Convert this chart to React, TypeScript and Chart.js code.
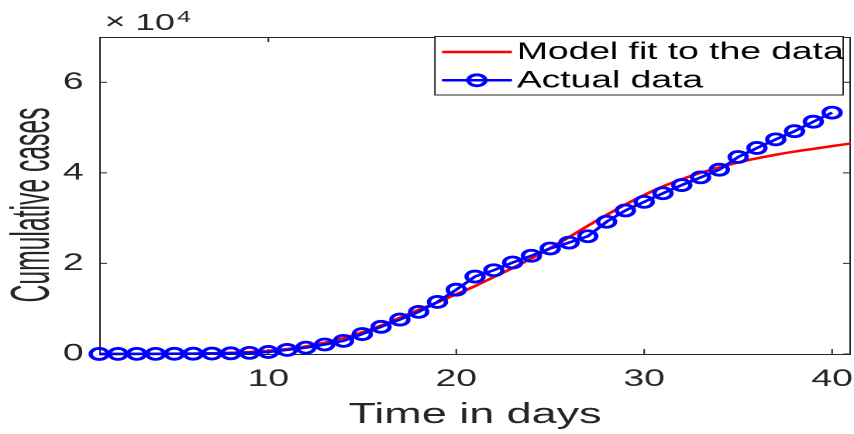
import React, { useEffect, useRef } from "react";
import { Chart, registerables } from "chart.js";

Chart.register(...registerables);

// ---------- data ----------
const days = [
  1, 2, 3, 4, 5, 6, 7, 8, 9, 10, 11, 12, 13, 14, 15, 16, 17, 18, 19, 20,
  21, 22, 23, 24, 25, 26, 27, 28, 29, 30, 31, 32, 33, 34, 35, 36, 37, 38, 39, 40,
];
const actualCases = [
  10, 15, 20, 30, 45, 65, 100, 150, 250, 450, 900, 1400, 2100, 2900, 4400, 6000,
  7600, 9300, 11500, 14200, 17100, 18500, 20200, 21700, 23300, 24600, 26000,
  29200, 31700, 33600, 35500, 37300, 39000, 40700, 43500, 45500, 47400, 49200,
  51300, 53300,
];
const modelDays = [
  1, 2, 3, 4, 5, 6, 7, 8, 9, 10, 11, 12, 13, 14, 15, 16, 17, 18, 19, 20, 21,
  22, 23, 24, 25, 26, 27, 28, 29, 30, 31, 32, 33, 34, 35, 36, 37, 38, 39, 40, 41,
];
const modelCases = [
  0, 10, 20, 40, 70, 110, 170, 270, 450, 700, 1100, 1700, 2500, 3500, 4800,
  6300, 8000, 9800, 11400, 13200, 15000, 17000, 19000, 21100, 23400, 25800,
  28300, 30700, 33000, 35100, 37000, 38600, 40000, 41200, 42300, 43200, 44000,
  44700, 45300, 45900, 46500,
];
const xTicks = [10, 20, 30, 40];
const yTicks = [0, 20000, 40000, 60000];
const xRange = [1, 41];
const yRange = [0, 70000];
const seriesNames = ["Model fit to the data", "Actual data"];
const xTitle = "Time in days";
const yTitle = "Cumulative cases";
const exponentBase = "10";
const exponentPower = "4";

// ---------- layout ----------
const W = 854;
const H = 434;
const FW = 551; // visible drawing-frame width, stretched horizontally to W
const CW = 558; // canvas width (extra room absorbs Chart.js point overflow padding)
const S = W / FW;
const FONT = "'Liberation Sans', Arial, Helvetica, sans-serif";
const INK = "#262626";

const decorPlugin = {
  id: "matlabDecor",
  beforeDatasetsDraw(chart: any) {
    const { ctx, chartArea, scales } = chart;
    const { left, right, top, bottom } = chartArea;
    const xs = scales.x;
    const ys = scales.y;
    ctx.save();
    ctx.strokeStyle = INK;
    ctx.lineWidth = 1;
    ctx.beginPath();
    ctx.rect(left + 0.5, top + 0.5, right - left - 1, bottom - top);
    const tl = 5;
    for (const v of xTicks) {
      const px = xs.getPixelForValue(v);
      ctx.moveTo(px, bottom);
      ctx.lineTo(px, bottom - tl);
      ctx.moveTo(px, top);
      ctx.lineTo(px, top + tl);
    }
    for (const v of yTicks) {
      const py = ys.getPixelForValue(v);
      ctx.moveTo(left, py);
      ctx.lineTo(left + tl, py);
      ctx.moveTo(right, py);
      ctx.lineTo(right - tl, py);
    }
    ctx.stroke();
    ctx.restore();
  },
  afterDraw(chart: any) {
    const { ctx, chartArea } = chart;
    const { left, right } = chartArea;
    ctx.save();
    ctx.fillStyle = INK;

    // x title
    ctx.font = `29px ${FONT}`;
    ctx.textAlign = "center";
    ctx.textBaseline = "alphabetic";
    ctx.fillText(xTitle, (left + right) / 2, 423);

    // y title (rotated, condensed)
    ctx.save();
    ctx.font = `35px ${FONT}`;
    const w = ctx.measureText(yTitle).width;
    const k = 195 / w;
    ctx.translate(31.5, 205);
    ctx.rotate(-Math.PI / 2);
    ctx.scale(k, 1);
    ctx.textAlign = "center";
    ctx.textBaseline = "alphabetic";
    ctx.fillText(yTitle, 0, 0);
    ctx.restore();

    // exponent
    ctx.textAlign = "left";
    ctx.textBaseline = "alphabetic";
    ctx.font = `23px ${FONT}`;
    ctx.fillText("\u00d7", left + 3.5, 29);
    ctx.fillText(exponentBase, left + 23.2, 30);
    ctx.font = `16px ${FONT}`;
    ctx.fillText(exponentPower, left + 50.3, 22);

    // legend
    const lx0 = 280.6;
    const lx1 = 544.0;
    const ly0 = 36.5;
    const ly1 = 95;
    ctx.fillStyle = "#ffffff";
    ctx.fillRect(lx0, ly0, lx1 - lx0, ly1 - ly0);
    ctx.strokeStyle = INK;
    ctx.lineWidth = 1;
    ctx.strokeRect(lx0, ly0, lx1 - lx0, ly1 - ly0);
    chart.data.datasets.forEach((ds: any, i: number) => {
      const cy = 52 + i * 28.3;
      ctx.strokeStyle = ds.borderColor;
      ctx.lineWidth = ds.borderWidth;
      ctx.beginPath();
      ctx.moveTo(285.2, cy);
      ctx.lineTo(330.3, cy);
      ctx.stroke();
      if (ds.pointRadius > 0) {
        ctx.lineWidth = ds.pointBorderWidth;
        ctx.strokeStyle = ds.pointBorderColor;
        ctx.beginPath();
        ctx.arc(307.7, cy, ds.pointRadius, 0, Math.PI * 2);
        ctx.stroke();
      }
      ctx.fillStyle = "#000000";
      ctx.font = `24px ${FONT}`;
      ctx.textAlign = "left";
      ctx.textBaseline = "middle";
      ctx.fillText(ds.label, 333.5, cy + 0.5);
    });
    ctx.restore();
  },
};

export default function App() {
  const ref = useRef<HTMLCanvasElement>(null);

  useEffect(() => {
    document.body.style.margin = "0";
    const canvas = ref.current;
    if (!canvas) return;
    const chart = new Chart(canvas, {
      type: "line",
      data: {
        datasets: [
          {
            label: seriesNames[0],
            data: modelDays.map((d, i) => ({ x: d, y: modelCases[i] })),
            borderColor: "#ff0000",
            backgroundColor: "#ff0000",
            borderWidth: 2.5,
            pointRadius: 0,
            pointBorderWidth: 0,
            pointBorderColor: "#ff0000",
            cubicInterpolationMode: "monotone",
            fill: false,
            order: 1,
            clip: false,
          },
          {
            label: seriesNames[1],
            data: days.map((d, i) => ({ x: d, y: actualCases[i] })),
            borderColor: "#0000ff",
            backgroundColor: "rgba(0,0,0,0)",
            borderWidth: 2.5,
            pointRadius: 5.5,
            pointBorderWidth: 2.8,
            pointBorderColor: "#0000ff",
            pointBackgroundColor: "rgba(0,0,0,0)",
            tension: 0,
            fill: false,
            order: 0,
            clip: false,
          },
        ],
      } as any,
      options: {
        responsive: false,
        animation: false,
        devicePixelRatio: 2,
        layout: { padding: { top: 37, right: CW - FW + 2, bottom: 0, left: 0 } },
        plugins: {
          legend: { display: false },
          tooltip: { enabled: false },
          title: { display: false },
        },
        scales: {
          x: {
            type: "linear",
            min: xRange[0],
            max: xRange[1],
            afterBuildTicks: (s: any) => {
              s.ticks = xTicks.map((v) => ({ value: v }));
            },
            afterFit: (s: any) => {
              s.height = 80;
              s.paddingLeft = 0;
              s.paddingRight = 0;
            },
            grid: { display: false, drawTicks: false },
            border: { display: false },
            ticks: {
              color: INK,
              font: { family: FONT, size: 24, lineHeight: 2.12 },
              padding: 0,
              maxRotation: 0,
              autoSkip: false,
            },
          },
          y: {
            type: "linear",
            min: yRange[0],
            max: yRange[1],
            afterBuildTicks: (s: any) => {
              s.ticks = yTicks.map((v) => ({ value: v }));
            },
            afterFit: (s: any) => {
              s.width = 64;
              s.paddingTop = 0;
              s.paddingBottom = 0;
            },
            grid: { display: false, drawTicks: false },
            border: { display: false },
            ticks: {
              color: INK,
              font: { family: FONT, size: 24 },
              padding: 10,
              callback: (v: any) => String(Number(v) / 10000),
            },
          },
        },
      } as any,
      plugins: [decorPlugin],
    });
    return () => chart.destroy();
  }, []);

  return (
    <div
      style={{
        position: "absolute",
        left: 0,
        top: 0,
        width: W,
        height: H,
        overflow: "hidden",
        background: "#ffffff",
      }}
    >
      <div
        style={{
          width: CW,
          height: H,
          transform: `scaleX(${S})`,
          transformOrigin: "0 0",
        }}
      >
        <canvas ref={ref} width={CW} height={H} style={{ display: "block" }} />
      </div>
    </div>
  );
}
